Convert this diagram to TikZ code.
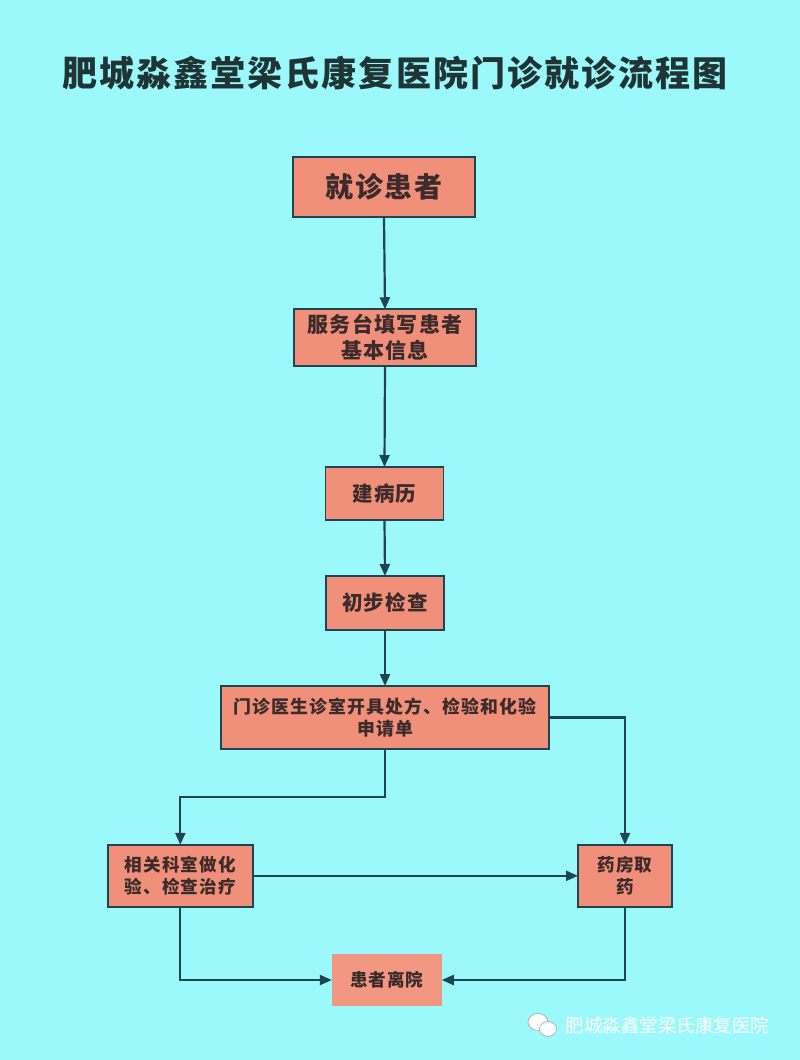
\documentclass[tikz,border=0pt]{standalone}
\usepackage{fontspec}
\usetikzlibrary{arrows.meta}
\newfontfamily\cjk{Noto Sans CJK SC}[LetterSpace=6]
\newfontfamily\cjkplain{Noto Sans CJK SC}
\definecolor{bgcyan}{HTML}{9CF9FB}
\definecolor{boxfill}{HTML}{F1907A}
\definecolor{boxfilllight}{HTML}{F29882}
\definecolor{linecol}{HTML}{1E4650}
\definecolor{titlecol}{HTML}{1F3535}
\definecolor{textcol}{HTML}{3B2B2B}
\tikzset{
  flowbox/.style={draw=linecol, line width=1.9pt, fill=boxfill, text=textcol,
    align=center, inner sep=0pt, outer sep=0pt},
  plainbox/.style={fill=boxfilllight, text=textcol, align=center, inner sep=0pt, outer sep=0pt},
  conn/.style={draw=linecol, line width=2.2pt, -{Triangle[length=12pt,width=10pt]}},
}
\begin{document}
\begin{tikzpicture}[x=1pt,y=-1pt]
\fill[bgcyan] (0,0) rectangle (800,1060);
\useasboundingbox (0,0) rectangle (800,1060);

\node[text=titlecol, font=\cjk\bfseries\fontsize{35}{38}\selectfont] (title) at (395,73) {肥城淼鑫堂梁氏康复医院门诊就诊流程图};

\node[flowbox, minimum width=182pt, minimum height=60pt, font=\cjk\bfseries\fontsize{28}{30}\selectfont] (b1) at (384,187) {就诊患者};
\node[flowbox, minimum width=182pt, minimum height=56.5pt, font=\cjk\bfseries\fontsize{21}{26}\selectfont] (b2) at (385,337.5) {服务台填写患者\\基本信息};
\node[flowbox, minimum width=118pt, minimum height=53pt, font=\cjk\bfseries\fontsize{20.5}{24}\selectfont] (b3) at (384.5,493.5) {建病历};
\node[flowbox, minimum width=118pt, minimum height=54pt, font=\cjk\bfseries\fontsize{20.5}{24}\selectfont] (b4) at (385,603) {初步检查};
\node[flowbox, minimum width=328pt, minimum height=63pt, font=\cjk\bfseries\fontsize{17.9}{21.5}\selectfont] (b5) at (385,717.5) {门诊医生诊室开具处方、检验和化验\\申请单};
\node[flowbox, minimum width=145pt, minimum height=62pt, font=\cjk\bfseries\fontsize{17.6}{21.5}\selectfont] (b6) at (180.3,875.8) {相关科室做化\\验、检查治疗};
\node[flowbox, minimum width=94pt, minimum height=62pt, font=\cjk\bfseries\fontsize{17.6}{22}\selectfont] (b7) at (625,875.8) {药房取\\药};
\node[plainbox, minimum width=110pt, minimum height=52pt, font=\cjk\bfseries\fontsize{17.6}{22}\selectfont] (b8) at (386.8,980) {患者离院};

\coordinate (k1) at (385,797);

\draw[conn] (b1.south) -- (b2.north);
\draw[conn] (b2.south) -- (b3.north);
\draw[conn] (b3.south) -- (b4.north);
\draw[conn] (b4.south) -- (b5.north);
\draw[conn] (b5.south) -- (k1) -| (b6.north);
\draw[conn] (b5.east) -| (b7.north);
\draw[conn] (b6.east) -- (b7.west);
\draw[conn] (b6.south) |- (b8.west);
\draw[conn] (b7.south) |- (b8.east);

% watermark icon
\draw[fill=white, draw=gray!60, line width=0.8pt] (538,1022) ellipse (10pt and 8.5pt);
\draw[fill=white, draw=gray!60, line width=0.8pt] (548,1029) ellipse (8.5pt and 7.5pt);
\node[anchor=west, text=white, font=\cjkplain\fontsize{18.5}{20}\selectfont] (wm) at (562,1025) {肥城淼鑫堂梁氏康复医院};
\end{tikzpicture}
\end{document}
